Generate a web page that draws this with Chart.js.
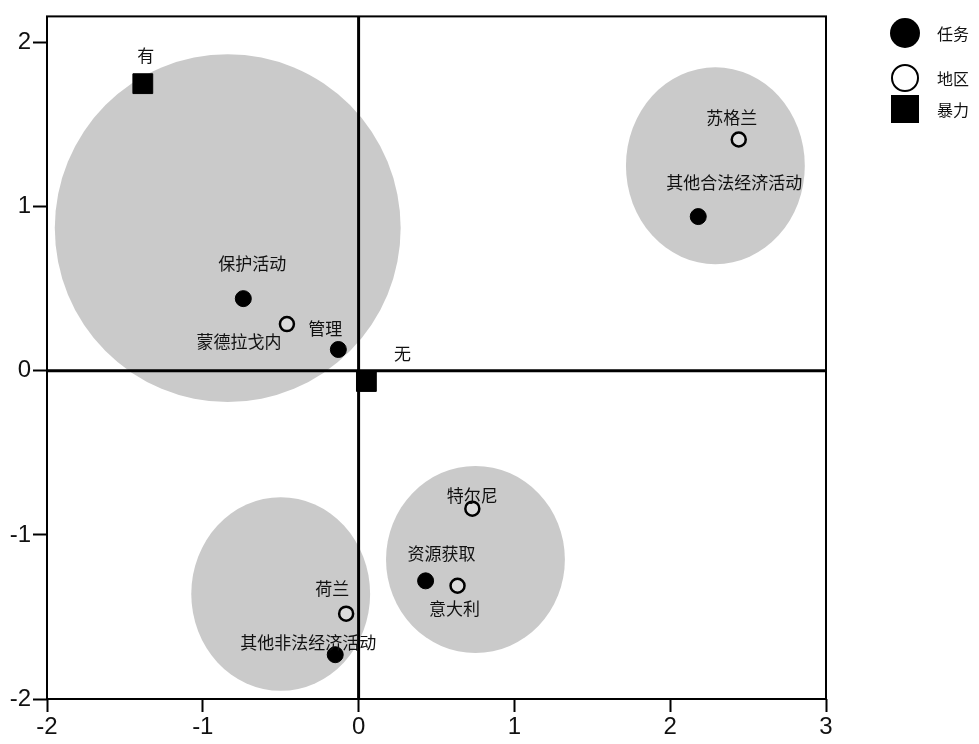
<!DOCTYPE html>
<html>
<head>
<meta charset="utf-8">
<script src="https://cdn.jsdelivr.net/npm/chart.js@4.4.1/dist/chart.umd.min.js"></script>
<style>
  html, body { margin: 0; background: #fff; }
  #wrap { width: 979px; height: 744px; }
</style>
</head>
<body>
<div id="wrap"><canvas id="grafico"></canvas></div>
<script>
// series: 任务 (filled circles)
const tareaNombres = ["保护活动", "管理", "其他合法经济活动", "资源获取", "其他非法经济活动"];
const tareaX = [-0.74, -0.13, 2.18, 0.43, -0.15];
const tareaY = [0.44, 0.13, 0.94, -1.28, -1.73];

// series: 地区 (open circles)
const regionNombres = ["蒙德拉戈内", "苏格兰", "特尔尼", "意大利", "荷兰"];
const regionX = [-0.46, 2.44, 0.73, 0.635, -0.08];
const regionY = [0.285, 1.41, -0.84, -1.31, -1.48];

// series: 暴力 (squares)
const violenciaNombres = ["有", "无"];
const violenciaX = [-1.385, 0.05];
const violenciaY = [1.75, -0.065];

// grey clusters: centre and radii in data units
const grupoX = [-0.84, 2.29, 0.75, -0.5];
const grupoY = [0.87, 1.25, -1.15, -1.36];
const grupoRx = [1.11, 0.574, 0.574, 0.574];
const grupoRy = [1.06, 0.6, 0.57, 0.59];

const ticksX = [-2, -1, 0, 1, 2, 3];
const ticksY = [-2, -1, 0, 1, 2];

// label offsets in px (layout only)
const offTarea = [[9, -35], [-13, -21], [36, -34], [16, -27], [-27, -12]];
const offRegion = [[-48, 17], [-7, -22], [0, -13], [-3, 23], [-14, -25]];
const offViolencia = [[3, -28], [36, -28]];

const fuenteCJK = '"Noto Sans CJK SC", "Noto Sans", sans-serif';

function puntos(xs, ys) {
    return xs.map((x, i) => ({ x: x, y: ys[i] }));
}

const pluginFondo = {
    id: "fondo",
    beforeDatasetsDraw(chart) {
        const { ctx, chartArea, scales } = chart;
        const sx = scales.x, sy = scales.y;
        ctx.save();
        ctx.beginPath();
        ctx.rect(chartArea.left, chartArea.top, chartArea.right - chartArea.left, chartArea.bottom - chartArea.top);
        ctx.clip();
        ctx.fillStyle = "#cacaca";
        grupoX.forEach((gx, i) => {
            const cx = sx.getPixelForValue(gx);
            const cy = sy.getPixelForValue(grupoY[i]);
            const rx = Math.abs(sx.getPixelForValue(gx + grupoRx[i]) - cx);
            const ry = Math.abs(sy.getPixelForValue(grupoY[i] + grupoRy[i]) - cy);
            ctx.beginPath();
            ctx.ellipse(cx, cy, rx, ry, 0, 0, Math.PI * 2);
            ctx.fill();
        });
        // ejes en cero
        ctx.strokeStyle = "#000";
        ctx.lineWidth = 3;
        const x0 = sx.getPixelForValue(0);
        const y0 = sy.getPixelForValue(0);
        ctx.beginPath();
        ctx.moveTo(x0, chartArea.top);
        ctx.lineTo(x0, chartArea.bottom);
        ctx.moveTo(chartArea.left, y0);
        ctx.lineTo(chartArea.right, y0);
        ctx.stroke();
        ctx.restore();
    },
    afterDatasetsDraw(chart) {
        const { ctx, chartArea, scales } = chart;
        const sx = scales.x, sy = scales.y;
        ctx.save();
        // marco
        ctx.strokeStyle = "#000";
        ctx.lineWidth = 2;
        ctx.strokeRect(chartArea.left, chartArea.top, chartArea.right - chartArea.left, chartArea.bottom - chartArea.top);

        // etiquetas de puntos
        ctx.fillStyle = "#111";
        ctx.font = "17px " + fuenteCJK;
        ctx.textAlign = "center";
        ctx.textBaseline = "middle";
        const grupos = [
            [tareaNombres, tareaX, tareaY, offTarea],
            [regionNombres, regionX, regionY, offRegion],
            [violenciaNombres, violenciaX, violenciaY, offViolencia]
        ];
        grupos.forEach(g => {
            g[0].forEach((nombre, i) => {
                const px = sx.getPixelForValue(g[1][i]) + g[3][i][0];
                const py = sy.getPixelForValue(g[2][i]) + g[3][i][1];
                ctx.fillText(nombre, px, py);
            });
        });

        // leyenda
        const ly = [33, 78, 109];
        const lx = 905;
        ctx.textAlign = "left";
        ctx.font = "16px " + fuenteCJK;
        chart.data.datasets.forEach((ds, i) => {
            ctx.strokeStyle = "#000";
            ctx.lineWidth = 2;
            ctx.beginPath();
            if (ds.pointStyle === "rect") {
                ctx.rect(lx - 14, ly[i] - 14, 28, 28);
                ctx.fillStyle = "#000";
                ctx.fill();
            } else if (ds.pointBorderWidth > 1) {
                ctx.arc(lx, ly[i], 13, 0, Math.PI * 2);
                ctx.fillStyle = "#fff";
                ctx.fill();
                ctx.stroke();
            } else {
                ctx.arc(lx, ly[i], 15, 0, Math.PI * 2);
                ctx.fillStyle = "#000";
                ctx.fill();
            }
            ctx.fillStyle = "#111";
            ctx.fillText(ds.label, 937, ly[i] + 1);
        });
        ctx.restore();
    }
};

document.addEventListener("DOMContentLoaded", () => {
    const ctx = document.getElementById("grafico");

    new Chart(ctx, {
        type: "scatter",
        data: {
            datasets: [
                {
                    label: "任务",
                    data: puntos(tareaX, tareaY),
                    pointStyle: "circle",
                    pointRadius: 8,
                    pointBackgroundColor: "#000",
                    pointBorderColor: "#000",
                    pointBorderWidth: 1
                },
                {
                    label: "地区",
                    data: puntos(regionX, regionY),
                    pointStyle: "circle",
                    pointRadius: 7,
                    pointBackgroundColor: "rgba(255,255,255,0.35)",
                    pointBorderColor: "#000",
                    pointBorderWidth: 2.5
                },
                {
                    label: "暴力",
                    data: puntos(violenciaX, violenciaY),
                    pointStyle: "rect",
                    pointRadius: 14,
                    pointBackgroundColor: "#000",
                    pointBorderColor: "#000",
                    pointBorderWidth: 1
                }
            ]
        },
        options: {
            responsive: true,
            maintainAspectRatio: false,
            devicePixelRatio: 1,
            animation: false,
            layout: { padding: { top: 9, right: 153, left: 0, bottom: 0 } },
            plugins: {
                legend: { display: false },
                tooltip: { enabled: false }
            },
            scales: {
                x: {
                    type: "linear",
                    min: -2,
                    max: 3,
                    afterBuildTicks: scale => { scale.ticks = ticksX.map(v => ({ value: v })); },
                    afterFit: scale => { scale.height = 45; },
                    border: { display: false },
                    grid: {
                        drawOnChartArea: false,
                        drawTicks: true,
                        tickLength: 13,
                        tickColor: "#000",
                        tickWidth: 2
                    },
                    ticks: {
                        color: "#111",
                        padding: 1,
                        font: { family: "Liberation Sans, Arial, sans-serif", size: 24 }
                    }
                },
                y: {
                    type: "linear",
                    min: -2,
                    max: 2.16,
                    afterBuildTicks: scale => { scale.ticks = ticksY.map(v => ({ value: v })); },
                    afterFit: scale => { scale.width = 47; },
                    border: { display: false },
                    grid: {
                        drawOnChartArea: false,
                        drawTicks: true,
                        tickLength: 14,
                        tickColor: "#000",
                        tickWidth: 2
                    },
                    ticks: {
                        color: "#111",
                        padding: 2,
                        font: { family: "Liberation Sans, Arial, sans-serif", size: 24 }
                    }
                }
            }
        },
        plugins: [pluginFondo]
    });
});
</script>
</body>
</html>
